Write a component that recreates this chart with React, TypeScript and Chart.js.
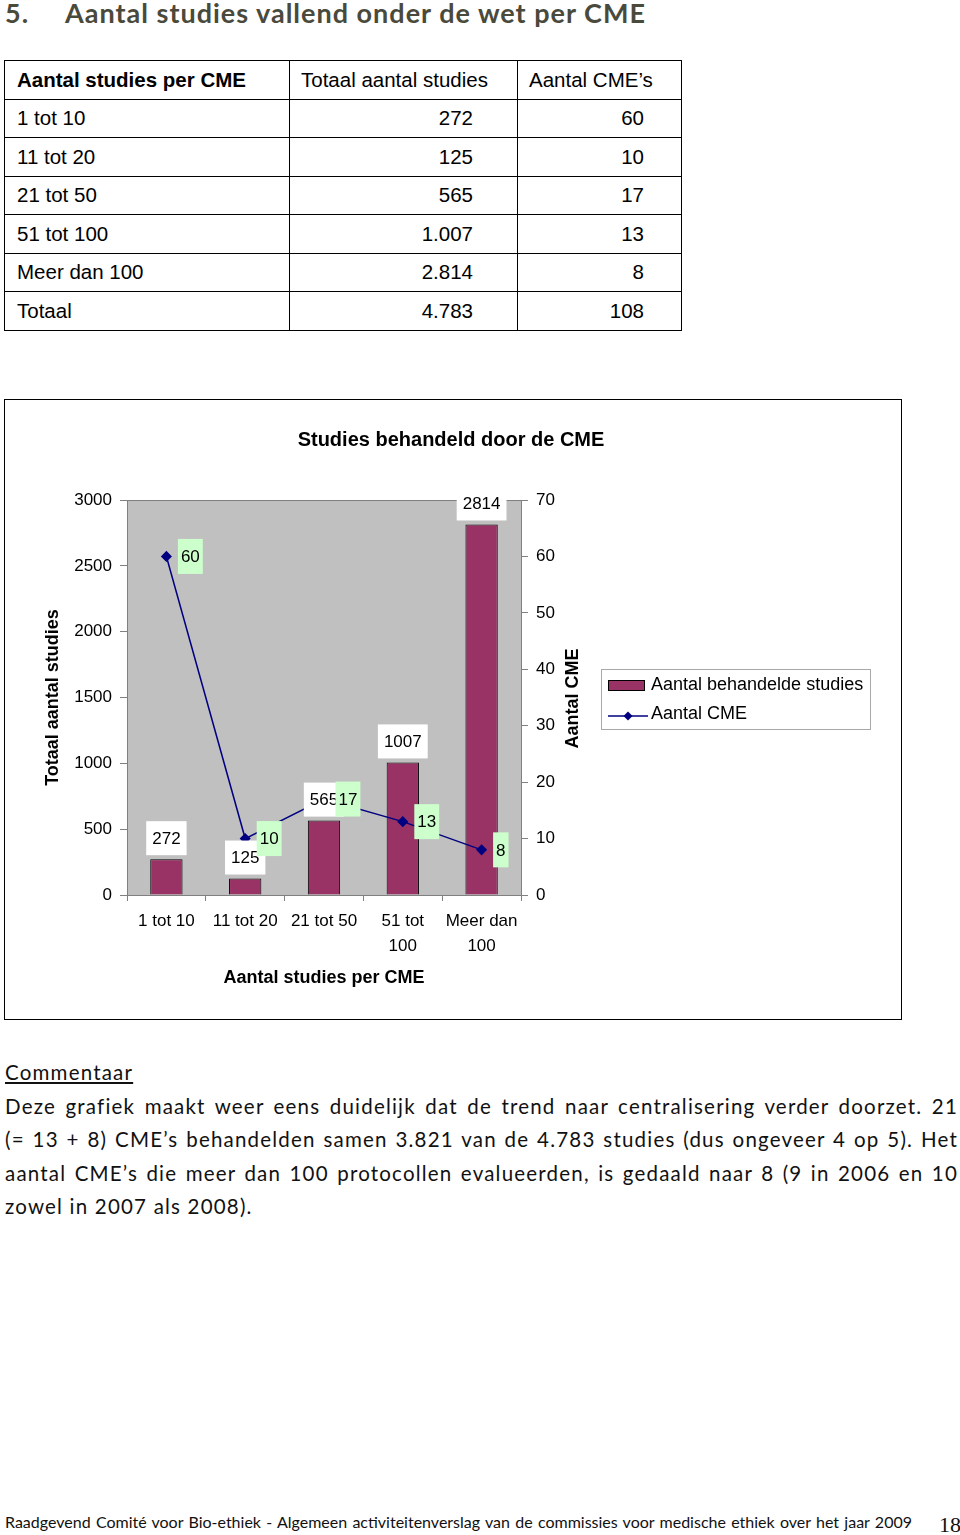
import React, { useEffect, useRef } from "react";
import { Chart, registerables } from "chart.js";

Chart.register(...registerables);

// ---------- data ----------
const categories = ["1 tot 10", "11 tot 20", "21 tot 50", "51 tot 100", "Meer dan 100"];
const axisLabels = [["1 tot 10"], ["11 tot 20"], ["21 tot 50"], ["51 tot", "100"], ["Meer dan", "100"]];
const studies = [272, 125, 565, 1007, 2814];
const cmes = [60, 10, 17, 13, 8];
const leftTicks = [0, 500, 1000, 1500, 2000, 2500, 3000];
const rightTicks = [0, 10, 20, 30, 40, 50, 60, 70];

const tableHeader = ["Aantal studies per CME", "Totaal aantal studies", "Aantal CME’s"];
const totalLabel = "Totaal";

const headingNumber = "5.";
const headingText = "Aantal studies vallend onder de wet per CME";
const chartTitle = "Studies behandeld door de CME";
const barLabel = "Aantal behandelde studies";
const lineLabel = "Aantal CME";
const leftAxisTitle = "Totaal aantal studies";
const rightAxisTitle = "Aantal CME";
const xAxisTitle = "Aantal studies per CME";

const commentTitle = "Commentaar";
const commentLines = [
  "Deze grafiek maakt weer eens duidelijk dat de trend naar centralisering verder doorzet. 21",
  "(= 13 + 8) CME’s behandelden samen 3.821 van de 4.783 studies (dus ongeveer 4 op 5). Het",
  "aantal CME’s die meer dan 100 protocollen evalueerden, is gedaald naar 8 (9 in 2006 en 10",
  "zowel in 2007 als 2008).",
];
const footerText =
  "Raadgevend Comité voor Bio-ethiek - Algemeen activiteitenverslag van de commissies voor medische ethiek over het jaar 2009";
const pageNumber = "18";

// ---------- styles ----------
const FONT = '"Liberation Sans", Arial, sans-serif';
const BAR_COLOR = "#993366";
const LINE_COLOR = "#000080";
const GREEN = "#ccffcc";
const PLOT_BG = "#c0c0c0";
const AXIS_GRAY = "#808080";

const fmt = (n: number) => String(n).replace(/\B(?=(\d{3})+(?!\d))/g, ".");

const excelPlugin = {
  id: "excelLook",
  beforeDraw(chart: any) {
    const { ctx, chartArea: ca } = chart;
    ctx.save();
    ctx.fillStyle = PLOT_BG;
    ctx.fillRect(ca.left, ca.top, ca.right - ca.left, ca.bottom - ca.top);
    ctx.strokeStyle = AXIS_GRAY;
    ctx.lineWidth = 1;
    ctx.beginPath();
    ctx.moveTo(ca.left, Math.round(ca.top) + 0.5);
    ctx.lineTo(ca.right, Math.round(ca.top) + 0.5);
    ctx.stroke();
    // chart title, centred on the whole chart box
    ctx.font = `bold 20px ${FONT}`;
    ctx.fillStyle = "#000";
    ctx.textAlign = "center";
    ctx.textBaseline = "middle";
    ctx.fillText(chartTitle, 446, 40);
    ctx.restore();
  },
  afterDatasetsDraw(chart: any) {
    const ctx = chart.ctx;
    ctx.save();
    ctx.font = `17px ${FONT}`;
    ctx.textBaseline = "middle";
    const barMeta = chart.getDatasetMeta(0);
    barMeta.data.forEach((el: any, i: number) => {
      const t = String(chart.data.datasets[0].data[i]);
      const w = ctx.measureText(t).width + 12;
      const h = 34;
      const bottom = el.y - 4;
      ctx.fillStyle = "#ffffff";
      ctx.fillRect(el.x - w / 2, bottom - h, w, h);
      ctx.fillStyle = "#000";
      ctx.textAlign = "center";
      ctx.fillText(t, el.x, bottom - h / 2 + 1);
    });
    const lineMeta = chart.getDatasetMeta(1);
    lineMeta.data.forEach((el: any, i: number) => {
      const t = String(chart.data.datasets[1].data[i]);
      const w = ctx.measureText(t).width + 6;
      const h = 35;
      const left = el.x + 11.5;
      ctx.fillStyle = GREEN;
      ctx.fillRect(left, el.y - h / 2, w, h);
      ctx.fillStyle = "#000";
      ctx.textAlign = "left";
      ctx.fillText(t, left + 3, el.y + 1);
    });
    ctx.restore();
  },
  afterDraw(chart: any) {
    const { ctx, chartArea: ca } = chart;
    const y1 = chart.scales.y1;
    const midY = (ca.top + ca.bottom) / 2;
    ctx.save();
    // right axis title (reads bottom to top)
    ctx.translate(y1.right - 18, midY + 1);
    ctx.rotate(-Math.PI / 2);
    ctx.font = `bold 18px ${FONT}`;
    ctx.fillStyle = "#000";
    ctx.textAlign = "center";
    ctx.textBaseline = "middle";
    ctx.fillText(rightAxisTitle, 0, 0);
    ctx.restore();

    // legend
    ctx.save();
    const lx = Math.round(y1.right + 10);
    const ly = Math.round(midY - 29);
    const lw = 269;
    const lh = 60;
    ctx.strokeStyle = "#a8a8a8";
    ctx.lineWidth = 1;
    ctx.strokeRect(lx + 0.5, ly + 0.5, lw, lh);
    ctx.fillStyle = BAR_COLOR;
    ctx.fillRect(lx + 7, ly + 11, 37, 11);
    ctx.strokeStyle = "#000";
    ctx.strokeRect(lx + 7.5, ly + 11.5, 36, 10);
    ctx.font = `18px ${FONT}`;
    ctx.fillStyle = "#000";
    ctx.textAlign = "left";
    ctx.textBaseline = "middle";
    ctx.fillText(chart.data.datasets[0].label, lx + 50, ly + 16);
    ctx.strokeStyle = LINE_COLOR;
    ctx.lineWidth = 1.5;
    ctx.beginPath();
    ctx.moveTo(lx + 7, ly + 47);
    ctx.lineTo(lx + 47, ly + 47);
    ctx.stroke();
    ctx.fillStyle = LINE_COLOR;
    ctx.beginPath();
    const dx = lx + 27, dy = ly + 47, r = 4.5;
    ctx.moveTo(dx, dy - r);
    ctx.lineTo(dx + r, dy);
    ctx.lineTo(dx, dy + r);
    ctx.lineTo(dx - r, dy);
    ctx.closePath();
    ctx.fill();
    ctx.fillStyle = "#000";
    ctx.fillText(chart.data.datasets[1].label, lx + 50, ly + 45);
    ctx.restore();
  },
};

function ChartBox() {
  const ref = useRef<HTMLCanvasElement>(null);
  useEffect(() => {
    if (!ref.current) return;
    const chart = new Chart(ref.current, {
      type: "bar",
      data: {
        labels: axisLabels as any,
        datasets: [
          {
            type: "bar",
            label: barLabel,
            data: studies,
            backgroundColor: BAR_COLOR,
            borderColor: "#000",
            borderWidth: 1,
            barPercentage: 0.41,
            categoryPercentage: 1,
            yAxisID: "y",
            order: 1,
          },
          {
            type: "line",
            label: lineLabel,
            data: cmes,
            borderColor: LINE_COLOR,
            backgroundColor: LINE_COLOR,
            borderWidth: 1.5,
            pointStyle: "rectRot",
            pointRadius: 4.5,
            pointBackgroundColor: LINE_COLOR,
            pointBorderColor: LINE_COLOR,
            tension: 0,
            yAxisID: "y1",
            order: 0,
          } as any,
        ],
      },
      options: {
        responsive: false,
        animation: false,
        layout: { padding: { left: 0, right: 310, top: 100, bottom: 0 } },
        plugins: {
          legend: { display: false },
          tooltip: { enabled: false },
          title: { display: false },
        },
        scales: {
          x: {
            type: "category",
            offset: true,
            grid: {
              display: true,
              drawOnChartArea: false,
              drawTicks: true,
              tickLength: 6,
              offset: true,
              color: AXIS_GRAY,
            },
            border: { display: true, color: AXIS_GRAY },
            ticks: {
              color: "#000",
              font: { family: FONT, size: 17, lineHeight: 1.45 },
              padding: 8,
              maxRotation: 0,
              autoSkip: false,
            },
            title: {
              display: true,
              text: xAxisTitle,
              color: "#000",
              font: { family: FONT, size: 18, weight: "bold" },
              padding: { top: 0, bottom: 30 },
            },
            afterFit: (s: any) => {
              s.height = 124;
            },
          },
          y: {
            type: "linear",
            position: "left",
            min: 0,
            max: 3000,
            afterBuildTicks: (s: any) => {
              s.ticks = leftTicks.map((v) => ({ value: v }));
            },
            grid: {
              display: true,
              drawOnChartArea: false,
              drawTicks: true,
              tickLength: 7,
              color: AXIS_GRAY,
            },
            border: { display: true, color: AXIS_GRAY },
            ticks: {
              color: "#000",
              font: { family: FONT, size: 17 },
              padding: 8,
              callback: (v: any) => String(v),
            },
            title: {
              display: true,
              text: leftAxisTitle,
              color: "#000",
              font: { family: FONT, size: 18, weight: "bold" },
              padding: { top: 37, bottom: 0 },
            },
            afterFit: (s: any) => {
              s.width = 122;
            },
          },
          y1: {
            type: "linear",
            position: "right",
            min: 0,
            max: 70,
            afterBuildTicks: (s: any) => {
              s.ticks = rightTicks.map((v) => ({ value: v }));
            },
            grid: {
              display: true,
              drawOnChartArea: false,
              drawTicks: true,
              tickLength: 7,
              color: AXIS_GRAY,
            },
            border: { display: true, color: AXIS_GRAY },
            ticks: {
              color: "#000",
              font: { family: FONT, size: 17 },
              padding: 8,
              callback: (v: any) => String(v),
            },
            afterFit: (s: any) => {
              s.width = 70;
            },
          },
        },
      } as any,
      plugins: [excelPlugin],
    });
    return () => chart.destroy();
  }, []);
  return <canvas ref={ref} width={896} height={619} style={{ display: "block" }} />;
}

const cellBase: React.CSSProperties = {
  border: "1px solid #000",
  padding: 0,
  height: 37.5,
  fontFamily: FONT,
  fontSize: 20.5,
  color: "#000",
  whiteSpace: "nowrap",
  verticalAlign: "middle",
};

export default function App() {
  const rows = categories.map((c, i) => [c, fmt(studies[i]), String(cmes[i])]);
  const totStudies = studies.reduce((a, b) => a + b, 0);
  const totCme = cmes.reduce((a, b) => a + b, 0);
  rows.push([totalLabel, fmt(totStudies), String(totCme)]);

  const bodyFont = 'Lato, "Open Sans", sans-serif';
  const headStyle: React.CSSProperties = {
    position: "absolute",
    top: -2,
    fontFamily: bodyFont,
    fontWeight: 700,
    fontSize: 27,
    letterSpacing: 1,
    lineHeight: "30px",
    color: "#4a4a3c",
    whiteSpace: "nowrap",
  };

  return (
    <div
      style={{
        position: "absolute",
        left: 0,
        top: 0,
        width: 960,
        height: 1535,
        background: "#fff",
        overflow: "hidden",
      }}
    >
      {/* heading */}
      <div style={{ ...headStyle, left: 5 }}>{headingNumber}</div>
      <div style={{ ...headStyle, left: 65 }}>{headingText}</div>

      {/* table */}
      <table
        style={{
          position: "absolute",
          left: 4,
          top: 60,
          borderCollapse: "collapse",
          tableLayout: "fixed",
          width: 677,
        }}
      >
        <colgroup>
          <col style={{ width: 285 }} />
          <col style={{ width: 228 }} />
          <col style={{ width: 164 }} />
        </colgroup>
        <tbody>
          <tr>
            <td style={{ ...cellBase, paddingLeft: 12, fontWeight: "bold" }}>{tableHeader[0]}</td>
            <td style={{ ...cellBase, paddingLeft: 11 }}>{tableHeader[1]}</td>
            <td style={{ ...cellBase, paddingLeft: 11 }}>{tableHeader[2]}</td>
          </tr>
          {rows.map((r, i) => (
            <tr key={i}>
              <td style={{ ...cellBase, paddingLeft: 12 }}>{r[0]}</td>
              <td style={{ ...cellBase, textAlign: "right", paddingRight: 44 }}>{r[1]}</td>
              <td style={{ ...cellBase, textAlign: "right", paddingRight: 37 }}>{r[2]}</td>
            </tr>
          ))}
        </tbody>
      </table>

      {/* chart box */}
      <div
        style={{
          position: "absolute",
          left: 4,
          top: 399,
          width: 898,
          height: 621,
          border: "1px solid #000",
          boxSizing: "border-box",
          background: "#fff",
        }}
      >
        <ChartBox />
      </div>

      {/* commentary */}
      <div
        style={{
          position: "absolute",
          left: 5,
          top: 1056,
          width: 953,
          fontFamily: bodyFont,
          fontSize: 20.5,
          letterSpacing: 1.2,
          lineHeight: "33.6px",
          color: "#111",
        }}
      >
        <div style={{ textDecoration: "underline", whiteSpace: "nowrap" }}>{commentTitle}</div>
        {commentLines.map((l, i) => (
          <div
            key={i}
            style={{
              whiteSpace: "nowrap",
              textAlign: i < commentLines.length - 1 ? "justify" : "left",
              textAlignLast: i < commentLines.length - 1 ? "justify" : "left",
            }}
          >
            {l}
          </div>
        ))}
      </div>

      {/* footer */}
      <div
        style={{
          position: "absolute",
          left: 5,
          top: 1511,
          width: 907,
          fontFamily: bodyFont,
          fontSize: 16,
          lineHeight: "22px",
          color: "#111",
          whiteSpace: "nowrap",
          textAlign: "justify",
          textAlignLast: "justify",
        }}
      >
        {footerText}
      </div>
      <div
        style={{
          position: "absolute",
          left: 939,
          top: 1512,
          fontFamily: '"Liberation Serif", "DejaVu Serif", serif',
          fontSize: 22,
          lineHeight: "26px",
          color: "#111",
        }}
      >
        {pageNumber}
      </div>
    </div>
  );
}
